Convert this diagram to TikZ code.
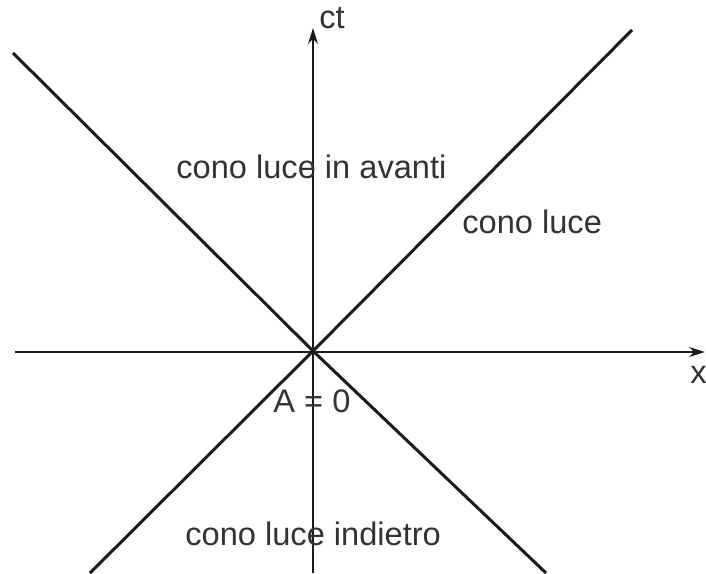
\documentclass[tikz,border=0pt]{standalone}
\usepackage{fontspec}
\setmainfont{Liberation Sans}
\usetikzlibrary{arrows.meta}
\definecolor{ink}{HTML}{1A1A1A}
\definecolor{txt}{HTML}{333333}
\tikzset{
  axis/.style={draw=ink, line width=0.7pt, -{Stealth[length=8pt,width=5pt]}},
  cone/.style={draw=ink, line width=1.5pt},
  lbl/.style={font=\fontsize{16.3}{20}\selectfont, color=txt, inner sep=0pt, anchor=base west}
}
\begin{document}
\begin{tikzpicture}[x=0.5pt,y=-0.5pt]
  \useasboundingbox (0,0) rectangle (706,573);
  % axes
  \coordinate (O) at (313,351);
  \coordinate (xl) at (15,352);
  \coordinate (xr) at (705,352);
  \coordinate (tb) at (313,573);
  \coordinate (tt) at (313,28);
  \draw[axis] (xl) -- (xr);
  \draw[axis] (tb) -- (tt);
  % light cone
  \coordinate (ul) at (13,53);
  \coordinate (ur) at (632,30);
  \coordinate (ll) at (90,573);
  \coordinate (lr) at (546,573);
  \draw[cone] (ul) -- (O) -- (lr);
  \draw[cone] (ur) -- (O) -- (ll);
  % labels
  \node[lbl] (ct) at (319,28) {ct};
  \node[lbl] (x) at (690,383) {x};
  \node[lbl] (fut) at (176,178) {cono luce in avanti};
  \node[lbl] (lc) at (462,233) {cono luce};
  \node[lbl] (A) at (273,412) {A = 0};
  \node[lbl] (past) at (185,545) {cono luce indietro};
\end{tikzpicture}
\end{document}
